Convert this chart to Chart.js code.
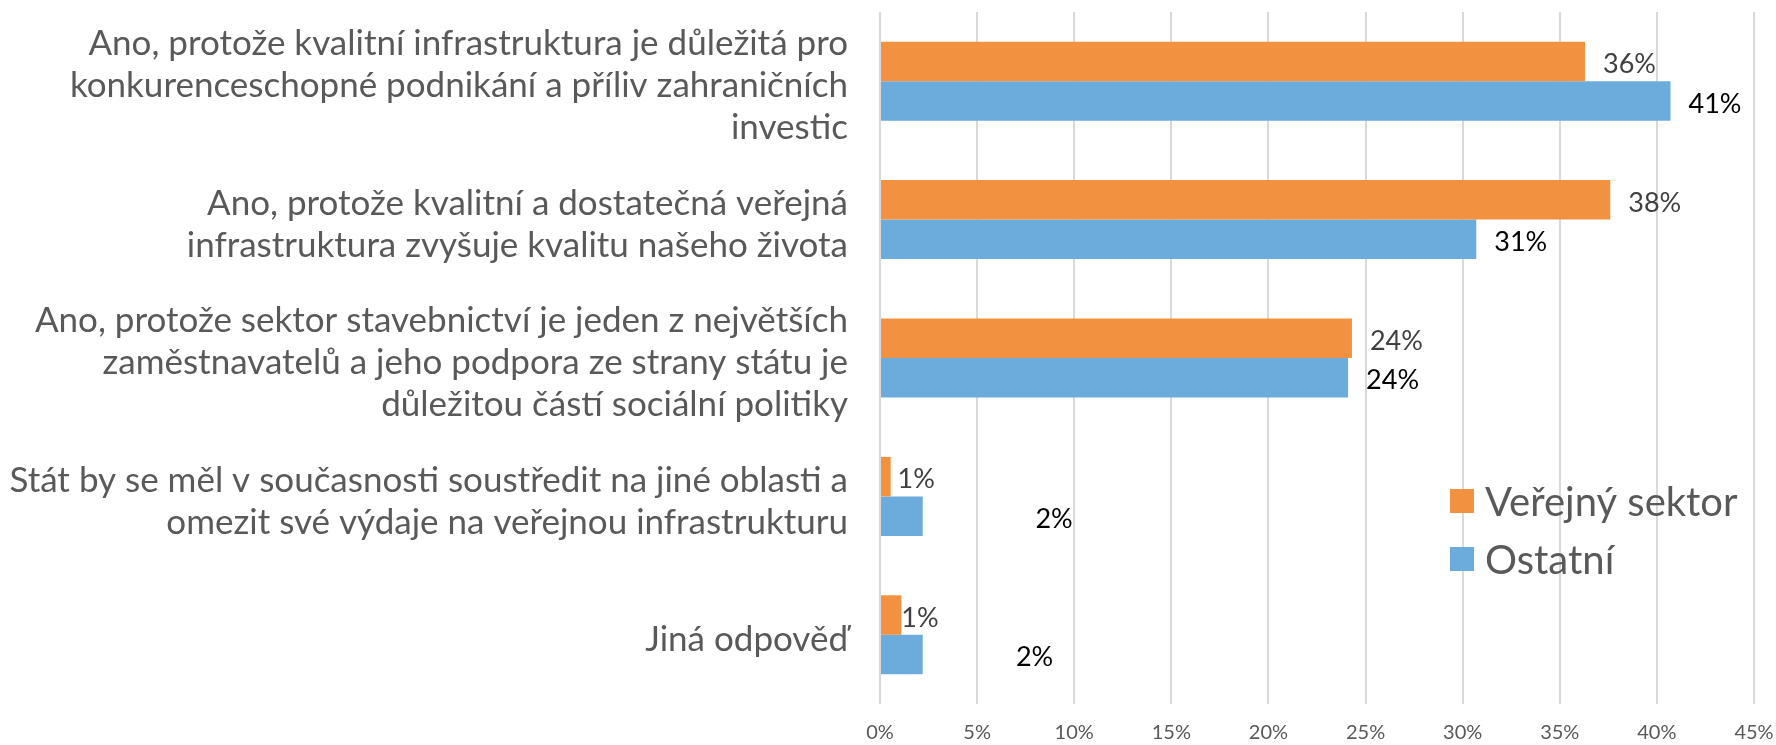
<!DOCTYPE html>
<html lang="cs">
<head>
<meta charset="utf-8">
<title>Veřejná infrastruktura</title>
<script src="https://cdn.jsdelivr.net/npm/chart.js@4.4.1/dist/chart.umd.min.js"></script>
<style>
  html, body { margin: 0; padding: 0; background: #fff; }
  #wrap { width: 1776px; height: 745px; position: relative; }
</style>
</head>
<body>
<div id="wrap"><canvas id="chart"></canvas></div>
<script>
// answers, top to bottom (each one already split into lines)
const categories = [
    ['Ano, protože kvalitní infrastruktura je důležitá pro', 'konkurenceschopné podnikání a příliv zahraničních', 'investic'],
    ['Ano, protože kvalitní a dostatečná veřejná', 'infrastruktura zvyšuje kvalitu našeho života'],
    ['Ano, protože sektor stavebnictví je jeden z největších', 'zaměstnavatelů a jeho podpora ze strany státu je', 'důležitou částí sociální politiky'],
    ['Stát by se měl v současnosti soustředit na jiné oblasti a', 'omezit své výdaje na veřejnou infrastrukturu'],
    ['Jiná odpověď']
];
const seriesNames = ['Veřejný sektor', 'Ostatní'];
const verejnySektor = [36.3, 37.6, 24.3, 0.55, 1.1];
const ostatni = [40.7, 30.7, 24.1, 2.2, 2.2];
const xTicks = [0, 5, 10, 15, 20, 25, 30, 35, 40, 45];

const ORANGE = '#f29241';
const BLUE = '#6bacdc';
const GREY = '#595959';
const FONT = 'Lato';

// value labels next to the bars
const barLabels = {
    id: 'barLabels',
    afterDatasetsDraw(chart, args, opts) {
        const { ctx } = chart;
        const xs = chart.scales.x;
        ctx.save();
        ctx.font = opts.font;
        ctx.textBaseline = 'middle';
        ctx.textAlign = 'left';
        chart.data.datasets.forEach((ds, di) => {
            const meta = chart.getDatasetMeta(di);
            const moved = opts.labelAt[di] || {};
            meta.data.forEach((bar, i) => {
                const x = moved[i] !== undefined ? xs.getPixelForValue(moved[i]) : bar.x + opts.gap;
                ctx.fillStyle = opts.colors[di];
                ctx.fillText(Math.round(ds.data[i]) + '%', x, bar.y + 3);
            });
        });
        ctx.restore();
    }
};

// legend sits inside the plot, lower right
const legendBox = {
    id: 'legendBox',
    afterDraw(chart) {
        const { ctx, chartArea } = chart;
        const x = chartArea.right - 304;
        const y0 = chartArea.top + 489;
        ctx.save();
        ctx.font = '40px ' + FONT;
        ctx.textBaseline = 'alphabetic';
        chart.data.datasets.forEach((ds, i) => {
            const y = y0 + i * 58;
            ctx.fillStyle = ds.backgroundColor;
            ctx.fillRect(x, y - 12, 24, 24);
            ctx.fillStyle = GREY;
            ctx.fillText(ds.label, x + 35, y + 15);
        });
        ctx.restore();
    }
};

new Chart(document.getElementById('chart'), {
    type: 'bar',
    data: {
        labels: categories,
        datasets: [
            { label: seriesNames[0], data: verejnySektor, backgroundColor: ORANGE, borderWidth: 0 },
            { label: seriesNames[1], data: ostatni, backgroundColor: BLUE, borderWidth: 0 }
        ]
    },
    options: {
        indexAxis: 'y',
        responsive: true,
        maintainAspectRatio: false,
        animation: false,
        categoryPercentage: 0.571,
        barPercentage: 1,
        layout: { padding: { top: 12, right: 22, bottom: 0, left: 0 } },
        plugins: {
            legend: { display: false },
            tooltip: { enabled: false },
            barLabels: {
                font: '27px ' + FONT,
                gap: 18,
                colors: ['#404040', '#000000'],
                // Excel pushed the small labels around; anchors in axis units
                labelAt: { 0: { 3: 0.9, 4: 1.1 }, 1: { 3: 8.0, 4: 7.0 } }
            }
        },
        scales: {
            x: {
                min: 0,
                max: 45,
                grid: { color: '#d9d9d9', lineWidth: 2, drawTicks: false },
                border: { display: false },
                ticks: {
                    padding: 17,
                    color: GREY,
                    font: { family: FONT, size: 20 },
                    callback: v => v + '%'
                },
                afterBuildTicks: s => { s.ticks = xTicks.map(v => ({ value: v })); },
                afterFit: s => { s.height = 41; s.paddingLeft = 0; s.paddingRight = 0; }
            },
            y: {
                grid: { display: false },
                border: { display: false },
                ticks: {
                    padding: 24,
                    labelOffset: 5,
                    autoSkip: false,
                    color: GREY,
                    font: { family: FONT, size: 35, lineHeight: 1.2 }
                },
                afterFit: s => { s.width = 880; s.paddingTop = 0; s.paddingBottom = 0; }
            }
        }
    },
    plugins: [barLabels, legendBox]
});
</script>
</body>
</html>
